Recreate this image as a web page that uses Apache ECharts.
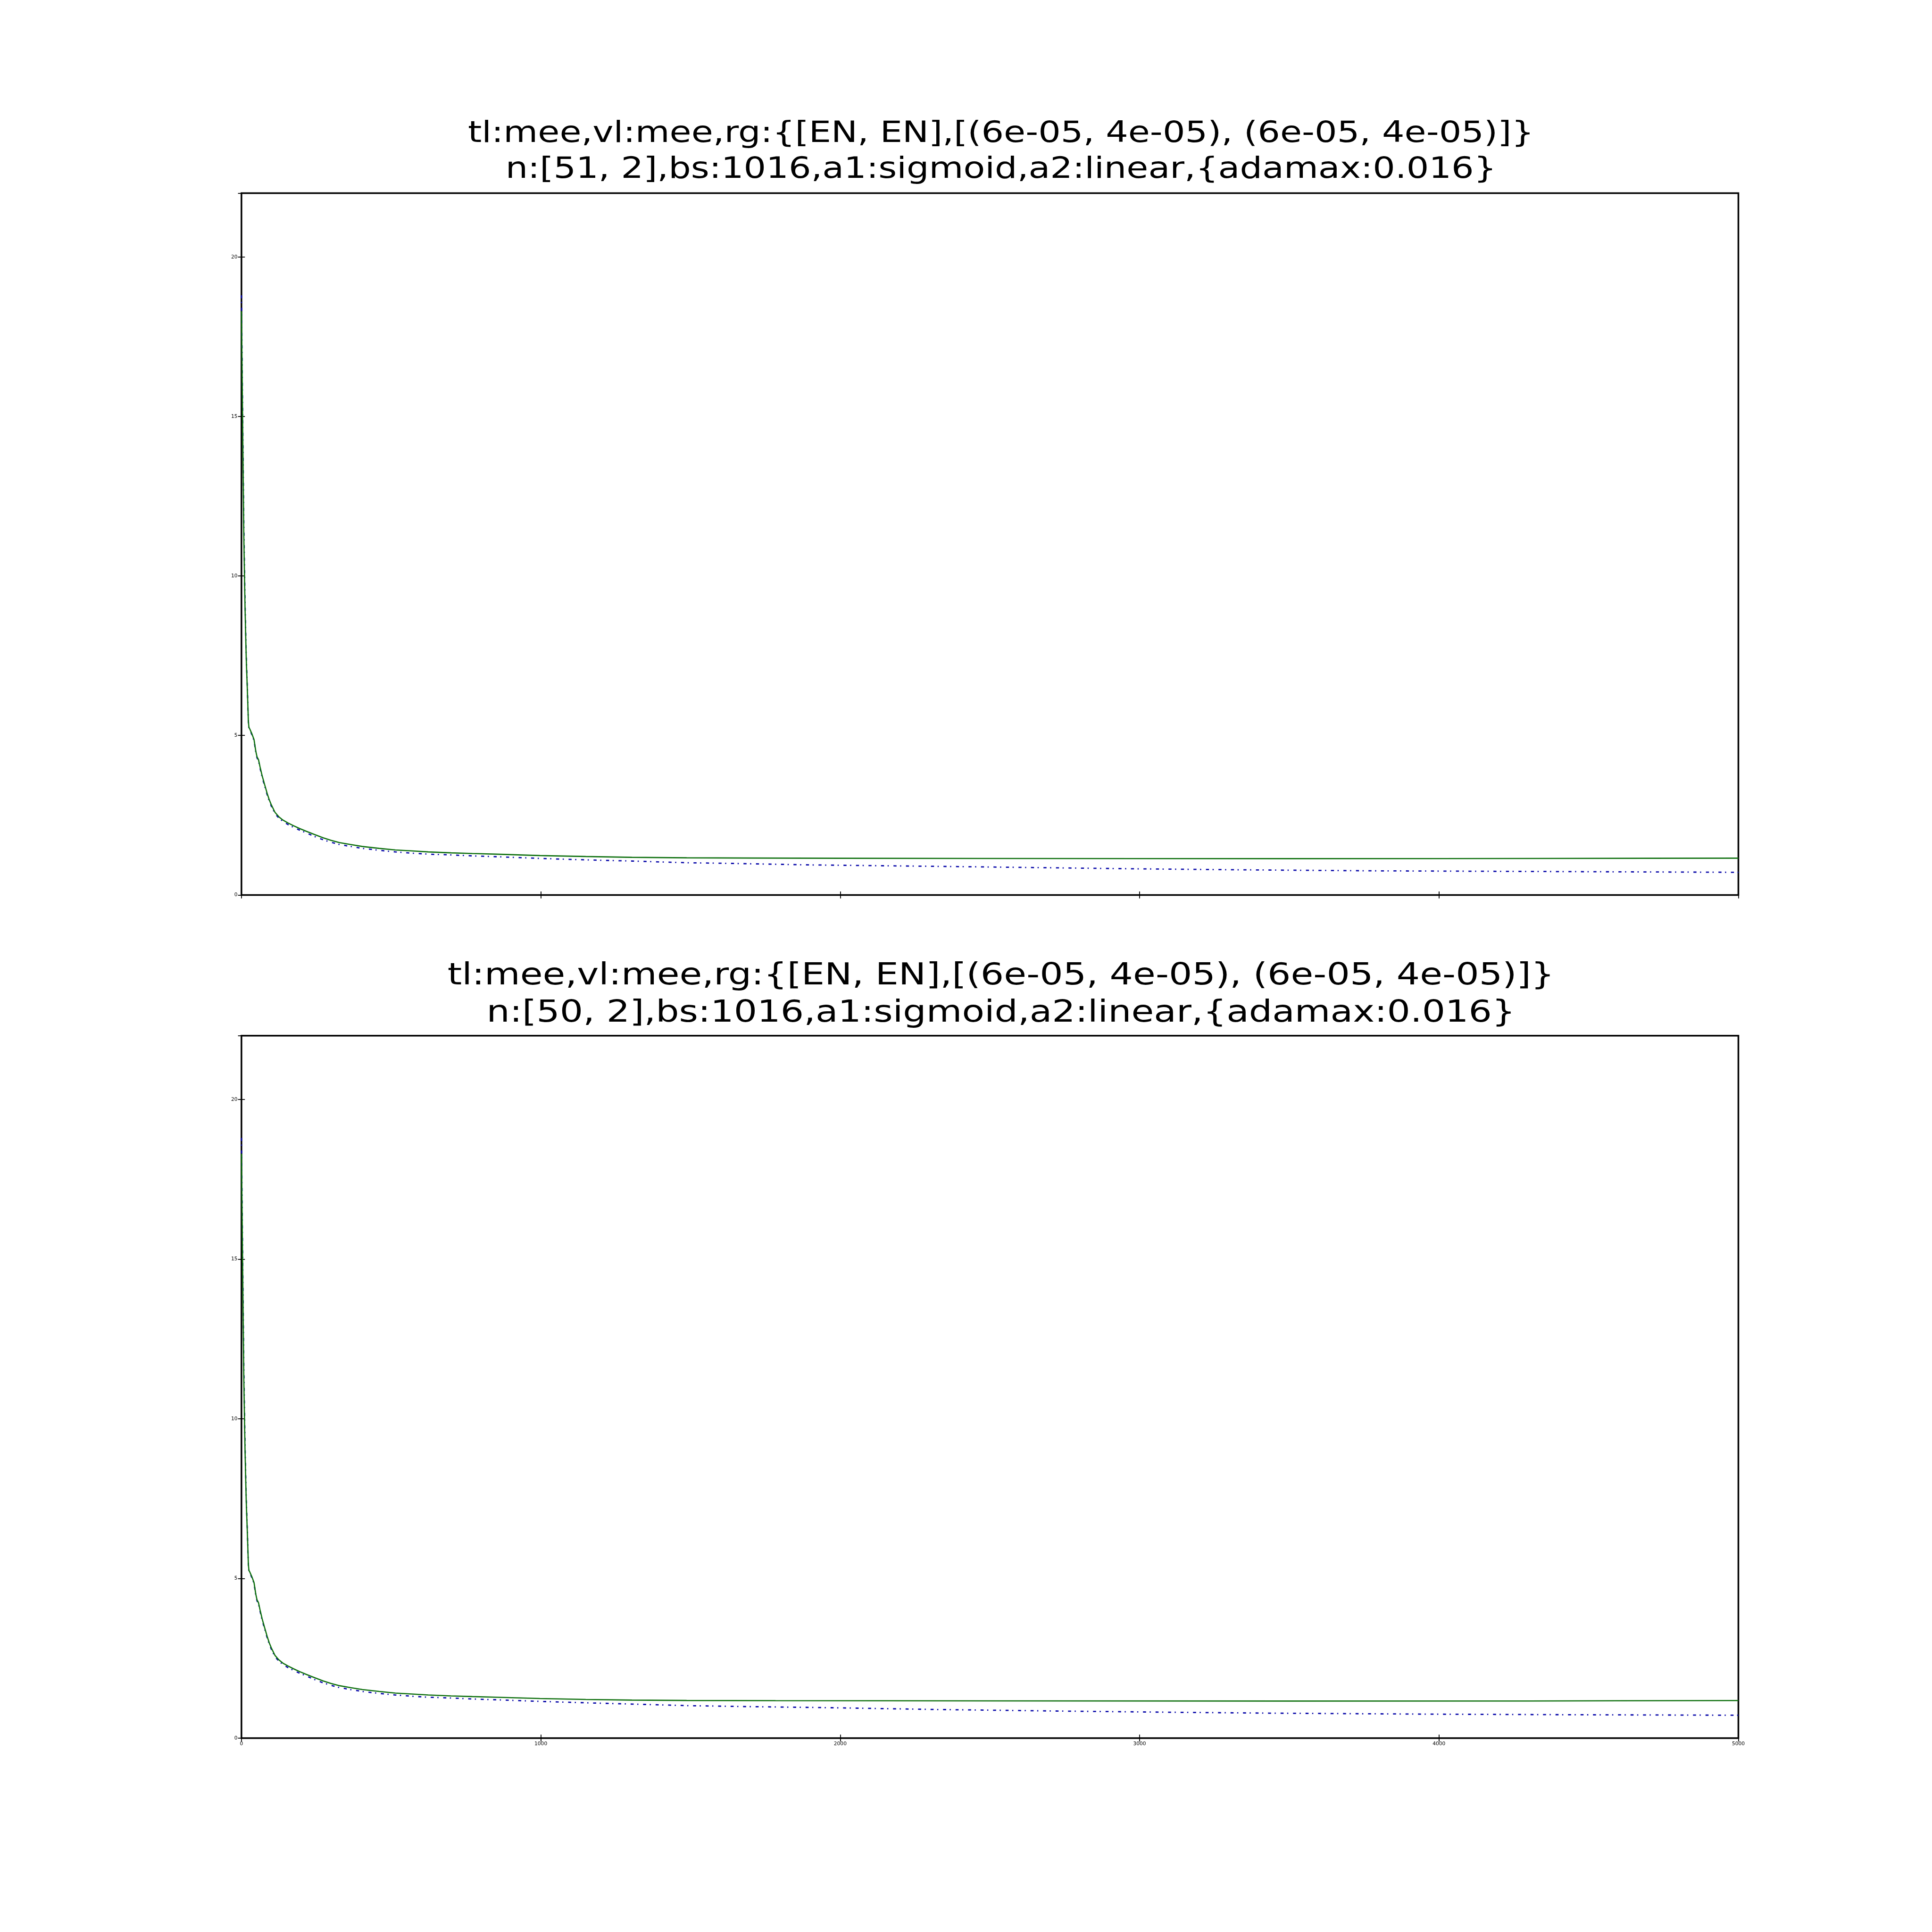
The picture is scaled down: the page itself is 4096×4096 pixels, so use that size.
<!DOCTYPE html>
<html><head><meta charset="utf-8">
<script src="https://cdn.jsdelivr.net/npm/echarts@6/dist/echarts.min.js"></script>
<style>html,body{margin:0;padding:0;background:#fff}#c{width:4096px;height:4096px}</style>
</head><body><div id="c"></div>
<script>
// ---- data ----
const xTicks = [0, 1000, 2000, 3000, 4000, 5000];
const yTicks = [0, 5, 10, 15, 20];
const titleTop = ['tl:mee,vl:mee,rg:{[EN, EN],[(6e-05, 4e-05), (6e-05, 4e-05)]}',
                  'n:[51, 2],bs:1016,a1:sigmoid,a2:linear,{adamax:0.016}'];
const titleBottom = ['tl:mee,vl:mee,rg:{[EN, EN],[(6e-05, 4e-05), (6e-05, 4e-05)]}',
                     'n:[50, 2],bs:1016,a1:sigmoid,a2:linear,{adamax:0.016}'];

// top panel
const topValEpochs = [0,2,5,8,12,16,20,23,25,28,35,42,48,52,57,62,69,78,86,93,100,112,125,138,155,174,195,218,245,273,300,328,365,404,460,514,570,624,700,771,850,997,1150,1304,1487,1694,2000,2471,3000,3500,4000,4323,4700,5000];
const topValValues = [18.3,16.6,13.8,11.2,9.0,7.4,6.35,5.45,5.25,5.2,5.05,4.87,4.5,4.33,4.24,4.02,3.74,3.44,3.18,2.98,2.82,2.59,2.45,2.35,2.26,2.17,2.08,1.99,1.89,1.79,1.71,1.64,1.58,1.52,1.46,1.41,1.38,1.35,1.32,1.30,1.28,1.235,1.205,1.18,1.165,1.158,1.150,1.144,1.140,1.139,1.140,1.145,1.150,1.153];
const topTrainEpochs = [0,2,5,8,12,16,20,23,25,28,35,42,48,52,57,62,69,78,86,93,100,112,125,138,155,174,195,218,245,273,300,328,365,404,460,514,570,624,700,771,850,997,1150,1304,1487,1631,1900,2403,2974,3317,3774,4323,5000];
const topTrainValues = [18.8,17.0,14.2,11.6,9.2,7.5,6.4,5.45,5.25,5.18,5.02,4.84,4.47,4.30,4.2,3.98,3.7,3.4,3.14,2.94,2.78,2.55,2.41,2.31,2.21,2.12,2.03,1.94,1.83,1.73,1.65,1.58,1.52,1.46,1.40,1.35,1.31,1.28,1.255,1.225,1.20,1.145,1.10,1.063,1.01,0.99,0.942,0.888,0.821,0.79,0.757,0.736,0.71];

// bottom panel
const botValEpochs = [0,2,5,8,12,16,20,23,25,28,35,42,48,52,57,62,69,78,86,93,100,112,125,138,155,174,195,218,245,273,300,328,365,404,460,514,570,624,700,771,850,997,1150,1304,1487,1784,2500,3500,4300,4600,5000];
const botValValues = [18.3,16.6,13.8,11.2,9.0,7.4,6.35,5.45,5.25,5.2,5.05,4.87,4.5,4.33,4.24,4.02,3.74,3.44,3.18,2.98,2.82,2.59,2.45,2.35,2.26,2.17,2.08,1.99,1.89,1.79,1.71,1.64,1.58,1.52,1.46,1.41,1.38,1.35,1.32,1.30,1.28,1.24,1.21,1.19,1.178,1.172,1.165,1.160,1.163,1.170,1.176];
const botTrainEpochs = [0,2,5,8,12,16,20,23,25,28,35,42,48,52,57,62,69,78,86,93,100,112,125,138,155,174,195,218,245,273,300,328,365,404,460,514,570,624,700,771,850,997,1150,1304,1487,1700,1946,2312,2747,3090,3433,3960,4463,5000];
const botTrainValues = [18.8,17.0,14.2,11.6,9.2,7.5,6.4,5.45,5.25,5.18,5.02,4.84,4.47,4.30,4.2,3.98,3.7,3.4,3.14,2.94,2.78,2.55,2.41,2.31,2.21,2.12,2.03,1.94,1.83,1.73,1.65,1.58,1.52,1.46,1.40,1.35,1.31,1.28,1.255,1.225,1.20,1.15,1.105,1.065,1.017,0.985,0.955,0.897,0.845,0.811,0.781,0.750,0.731,0.716];

// ---- chart ----
const pair = (xs, ys) => xs.map((x, i) => [x, ys[i]]);
const FONT = '"DejaVu Sans", "Liberation Sans", sans-serif';
const tick = {show: true, inside: true, length: 7.3, lineStyle: {color: '#000', width: 1.8}};

function xAx(grid, pos, labels) {
  return {type: 'value', gridIndex: grid, position: pos, min: 0, max: 5000, interval: 1000,
    axisLine: {show: false}, splitLine: {show: false}, axisTick: tick,
    axisLabel: {show: labels, color: '#000', fontFamily: FONT, fontSize: 10.7, margin: 7,
      formatter: v => xTicks.includes(v) ? String(v) : ''}};
}
function yAx(grid, pos, labels) {
  return {type: 'value', gridIndex: grid, position: pos, min: 0, max: 22, interval: 5,
    axisLine: {show: false}, splitLine: {show: false}, axisTick: tick,
    axisLabel: {show: labels, color: '#000', fontFamily: FONT, fontSize: 10.7, margin: 8.4,
      formatter: v => yTicks.includes(v) ? String(v) : ''}};
}
const trainStyle = {color: '#0a0aaa', width: 2.8, type: [6.5, 7.5, 2.5, 10]};
const valStyle = {color: '#0f700f', width: 2.6, type: 'solid'};
function line(name, data, xi, yi, style, z) {
  return {type: 'line', name, data, xAxisIndex: xi, yAxisIndex: yi, showSymbol: false,
    symbol: 'none', smooth: false, lineStyle: style, z, animation: false};
}
function titleText(txt, y, fs, sx) {
  return {type: 'text', x: 2122, y: y, scaleX: sx, scaleY: 1,
    style: {text: txt, fill: '#000', fontSize: fs, fontFamily: FONT,
      textAlign: 'center', textVerticalAlign: 'middle', align: 'center', verticalAlign: 'middle'}};
}

const chart = echarts.init(document.getElementById('c'), null, {renderer: 'canvas'});
chart.setOption({
  animation: false,
  backgroundColor: '#fff',
  grid: [
    {left: 511.9, top: 409.5, width: 3173.6, height: 1487.9, show: true, borderColor: '#000', borderWidth: 3.5, backgroundColor: 'transparent'},
    {left: 511.9, top: 2195.8, width: 3173.6, height: 1489.1, show: true, borderColor: '#000', borderWidth: 3.5, backgroundColor: 'transparent'}
  ],
  xAxis: [xAx(0, 'bottom', false), xAx(0, 'top', false), xAx(1, 'bottom', true), xAx(1, 'top', false)],
  yAxis: [yAx(0, 'left', true), yAx(0, 'right', false), yAx(1, 'left', true), yAx(1, 'right', false)],
  graphic: [
    titleText(titleTop[0], 285, 62, 1.208),
    titleText(titleTop[1], 360.8, 62, 1.208),
    titleText(titleBottom[0], 2070.6, 64, 1.215),
    titleText(titleBottom[1], 2148.9, 64, 1.215)
  ],
  series: [
    line('train', pair(topTrainEpochs, topTrainValues), 0, 0, trainStyle, 2),
    line('validation', pair(topValEpochs, topValValues), 0, 0, valStyle, 3),
    line('train', pair(botTrainEpochs, botTrainValues), 2, 2, trainStyle, 2),
    line('validation', pair(botValEpochs, botValValues), 2, 2, valStyle, 3)
  ]
});
</script>
</body></html>
